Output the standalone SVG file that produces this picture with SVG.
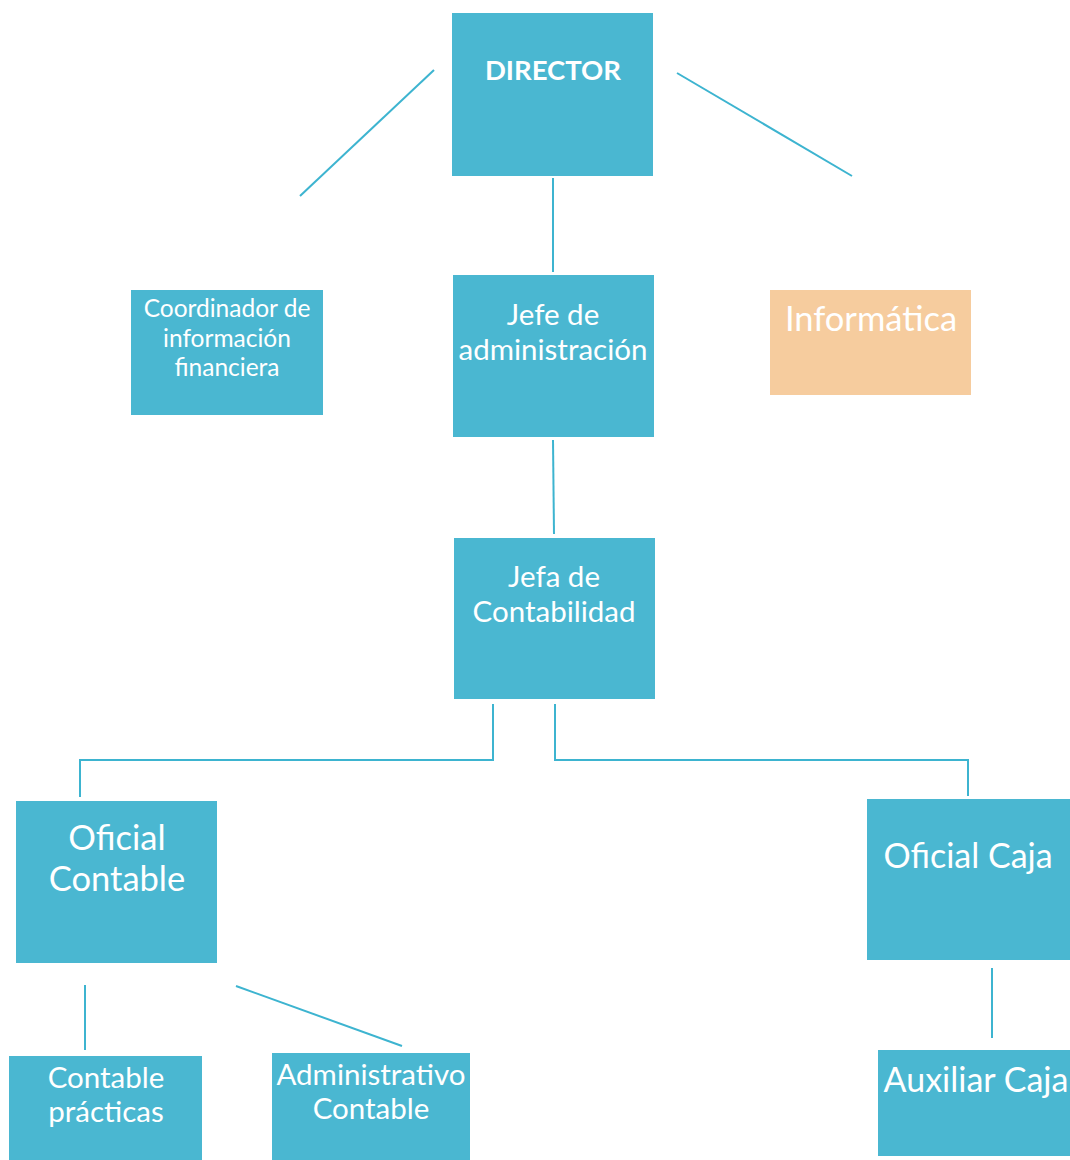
<svg xmlns="http://www.w3.org/2000/svg" width="1070" height="1160" viewBox="0 0 1070 1160">
<style>
.box{fill:#4AB7D1}
.orange{fill:#F6CC9E}
.t{font-family:Lato,"Open Sans","Liberation Sans",sans-serif;fill:#ffffff;text-anchor:middle;dominant-baseline:central}
.c{fill:none;stroke:#3DB4D0;stroke-width:2}
</style>
<rect width="1070" height="1160" fill="#ffffff"/>
<g id="connectors">
<line class="c" x1="434" y1="70" x2="300" y2="196"/>
<line class="c" x1="677" y1="73" x2="852" y2="176"/>
<line class="c" x1="553" y1="178" x2="553" y2="272"/>
<line class="c" x1="553" y1="440" x2="554" y2="534"/>
<polyline class="c" points="493,704 493,760 80,760 80,797"/>
<polyline class="c" points="555,704 555,760 968,760 968,796"/>
<line class="c" x1="85" y1="985" x2="85" y2="1050"/>
<line class="c" x1="236" y1="986" x2="402" y2="1046"/>
<line class="c" x1="992" y1="968" x2="992" y2="1038"/>
</g>
<g id="director">
<rect class="box" x="452" y="13" width="201" height="163"/>
<text class="t" x="553" y="69" font-size="27.5" font-weight="bold">DIRECTOR</text>
</g>
<g id="coordinador">
<rect class="box" x="131" y="290" width="192" height="125"/>
<text class="t" x="227" y="307" font-size="24.5">Coordinador de</text>
<text class="t" x="227" y="337" font-size="24.5">información</text>
<text class="t" x="227" y="366" font-size="24.5">financiera</text>
</g>
<g id="jefe-admin">
<rect class="box" x="453" y="275" width="201" height="162"/>
<text class="t" x="553" y="313" font-size="29.5">Jefe de</text>
<text class="t" x="553" y="348" font-size="29.5">administración</text>
</g>
<g id="informatica">
<rect class="orange" x="770" y="290" width="201" height="105"/>
<text class="t" x="871" y="317" font-size="34.5">Informática</text>
</g>
<g id="jefa-contabilidad">
<rect class="box" x="454" y="538" width="201" height="161"/>
<text class="t" x="554" y="575" font-size="29.5">Jefa de</text>
<text class="t" x="554" y="610" font-size="29.5">Contabilidad</text>
</g>
<g id="oficial-contable">
<rect class="box" x="16" y="801" width="201" height="162"/>
<text class="t" x="117" y="836" font-size="34.5">Oficial</text>
<text class="t" x="117" y="877" font-size="34.5">Contable</text>
</g>
<g id="oficial-caja">
<rect class="box" x="867" y="799" width="203" height="161"/>
<text class="t" x="968" y="854" font-size="34">Oficial Caja</text>
</g>
<g id="contable-practicas">
<rect class="box" x="9" y="1056" width="193" height="104"/>
<text class="t" x="106" y="1076" font-size="29.5">Contable</text>
<text class="t" x="106" y="1110" font-size="29.5">prácticas</text>
</g>
<g id="administrativo-contable">
<rect class="box" x="272" y="1053" width="198" height="107"/>
<text class="t" x="371" y="1073" font-size="29.5">Administrativo</text>
<text class="t" x="371" y="1107" font-size="29.5">Contable</text>
</g>
<g id="auxiliar-caja">
<rect class="box" x="878" y="1050" width="192" height="106"/>
<text class="t" x="976" y="1078" font-size="34">Auxiliar Caja</text>
</g>
</svg>
